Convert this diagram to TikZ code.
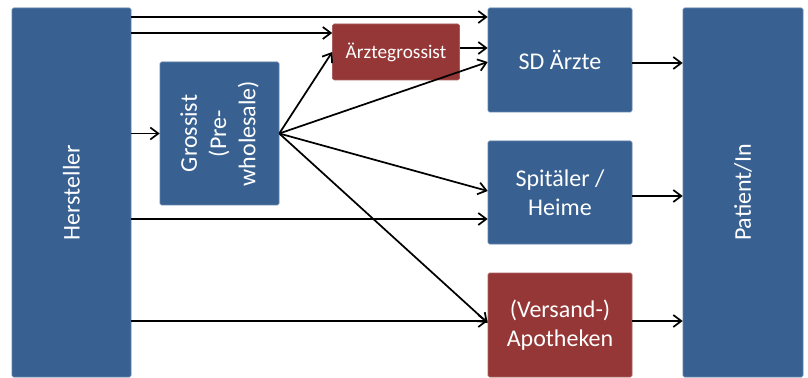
\documentclass[tikz,border=0pt]{standalone}
\usepackage{fontspec}
\setmainfont{Carlito}
\usetikzlibrary{arrows.meta}
\definecolor{boxblue}{HTML}{386192}
\definecolor{boxred}{HTML}{953736}
\tikzset{
	box/.style={fill=boxblue,draw=boxblue!80!white,rounded corners=1.2pt,text=white,align=center,inner sep=0pt,font=\fontsize{18}{22}\selectfont},
	redbox/.style={box,fill=boxred,draw=boxred!80!white},
	arr/.style={line width=1.3pt,-{Straight Barb[length=6pt,width=9pt,line width=1.3pt]}}
}
\begin{document}
\begin{tikzpicture}[x=0.75pt,y=-0.75pt]
	\useasboundingbox (0,0) rectangle (808,378);
	% Boxes
	\node[box,minimum width=89.25pt,minimum height=276.75pt,label={[rotate=90,text=white,font=\fontsize{18}{22}\selectfont]center:Hersteller}] (hers) at (71.5,192.5) {};
	\node[box,minimum width=89.25pt,minimum height=107.25pt,label={[rotate=90,text=white,align=center,font=\fontsize{18}{22}\selectfont]center:Grossist\\(Pre-\\wholesale)}] (gross) at (219.5,133.5) {};
	\node[redbox,minimum width=95.25pt,minimum height=42pt,font=\fontsize{14.5}{18}\selectfont] (agross) at (396,52) {Ärztegrossist};
	\node[box,minimum width=108pt,minimum height=78pt] (sd) at (560,60) {SD Ärzte};
	\node[box,minimum width=108pt,minimum height=77.25pt] (spit) at (560,192.5) {Spitäler /\\Heime};
	\node[redbox,minimum width=108pt,minimum height=78pt] (apo) at (560,325) {(Versand-)\\Apotheken};
	\node[box,minimum width=90pt,minimum height=276.75pt,label={[rotate=90,text=white,font=\fontsize{18}{22}\selectfont]center:Patient/In}] (pat) at (743,192.5) {};
	% Hersteller
	\draw[arr] (hers.east |- 0,17) -- (sd.west |- 0,17);
	\draw[arr] (hers.east |- 0,33) -- (agross.west |- 0,33);
	\draw[arr] (hers.east |- gross.west) -- (gross.west);
	\draw[arr] (hers.east |- 0,219) -- (spit.west |- 0,219);
	\draw[arr] (hers.east |- 0,321) -- (apo.west |- 0,321);
	% Grossist
	\draw[arr] (gross.east) -- (agross.west);
	\draw[arr] (gross.east) -- (sd.west |- 0,62);
	\draw[arr] (gross.east) -- (spit.west |- 0,191);
	\draw[arr] (gross.east) -- (apo.west |- 0,323);
	% Aerztegrossist
	\draw[arr] (agross.east |- 0,48) -- (sd.west |- 0,48);
	% Patient
	\draw[arr] (sd.east |- 0,63) -- (pat.west |- 0,63);
	\draw[arr] (spit.east |- 0,196) -- (pat.west |- 0,196);
	\draw[arr] (apo.east |- 0,321) -- (pat.west |- 0,321);
\end{tikzpicture}
\end{document}
